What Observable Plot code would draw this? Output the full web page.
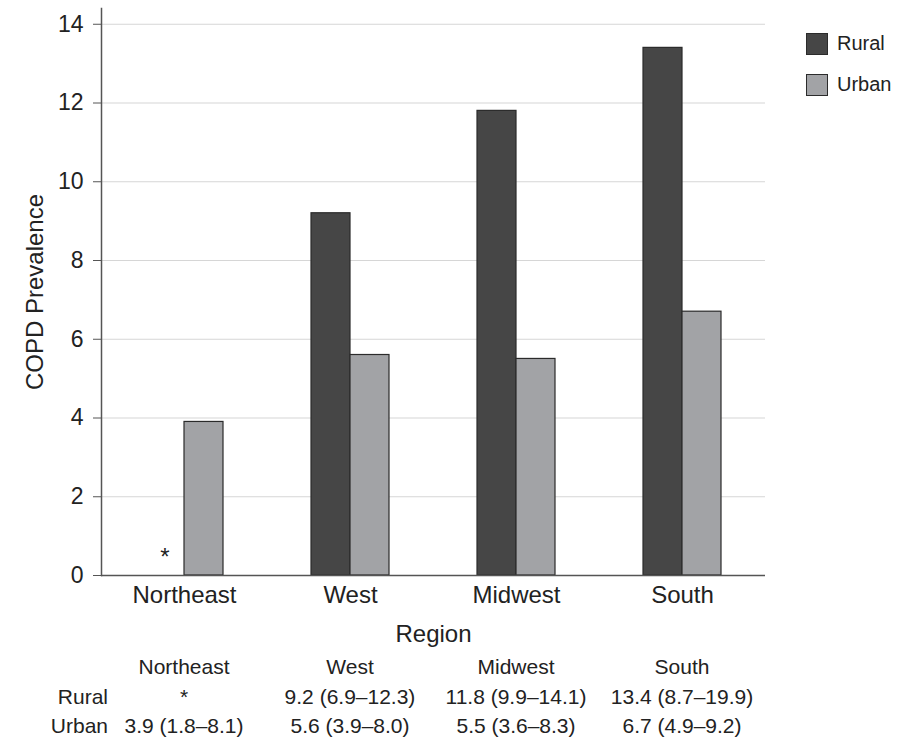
<!DOCTYPE html>
<html>
<head>
<meta charset="utf-8">
<script src="https://cdn.jsdelivr.net/npm/d3@7"></script>
<script src="https://cdn.jsdelivr.net/npm/@observablehq/plot@0.6"></script>
<style>
  body { margin: 0; background: #fff; font-family: "Liberation Sans", Arial, Helvetica, sans-serif; color: #222; }
  #wrap { position: relative; width: 910px; height: 738px; overflow: hidden; }
  #wrap svg { position: absolute; left: 0; top: 0; }
  .legend-item { position: absolute; display: flex; align-items: center; font-size: 20px; }
  .swatch { width: 20px; height: 20px; border: 1.5px solid #2b2b2b; margin-right: 9px; }
  .cell { position: absolute; font-size: 21px; line-height: 21px; white-space: nowrap; }
</style>
</head>
<body>
<div id="wrap"></div>
<script>
// COPD prevalence (%) by region and rural/urban setting, with 95% CIs
const regions = ["Northeast", "West", "Midwest", "South"];
const settings = ["Rural", "Urban"];
const ruralValues = [null, 9.2, 11.8, 13.4];        // Northeast rural estimate suppressed
const ruralLow    = [null, 6.9, 9.9, 8.7];
const ruralHigh   = [null, 12.3, 14.1, 19.9];
const urbanValues = [3.9, 5.6, 5.5, 6.7];
const urbanLow    = [1.8, 3.9, 3.6, 4.9];
const urbanHigh   = [8.1, 8.0, 8.3, 9.2];
const yTicks = [0, 2, 4, 6, 8, 10, 12, 14];
const settingColors = ["#464646", "#a2a3a6"];

const rows = regions.flatMap((region, i) => [
  {region, setting: "Rural", value: ruralValues[i]},
  {region, setting: "Urban", value: urbanValues[i]}
]);

const fmt = (v, lo, hi) => v == null ? "*" : `${v.toFixed(1)} (${lo.toFixed(1)}\u2013${hi.toFixed(1)})`;

const plot = Plot.plot({
  width: 910,
  height: 650,
  marginTop: 8,
  marginLeft: 100,
  marginRight: 145,
  marginBottom: 75,
  style: {fontFamily: '"Liberation Sans", Arial, Helvetica, sans-serif', fontSize: "23px", color: "#222", background: "#fff"},
  fx: {domain: regions, padding: 0, label: "Region"},
  x: {domain: settings, paddingInner: 0, paddingOuter: 1.08, axis: null},
  y: {domain: [0, 14.4], ticks: yTicks, label: "COPD Prevalence"},
  color: {domain: settings, range: settingColors},
  marks: [
    Plot.gridY(yTicks, {stroke: "#d6d6d6", strokeOpacity: 1, strokeWidth: 1.2}),
    Plot.barY(rows.filter(d => d.value != null), {
      fx: "region", x: "setting", y: "value", fill: "setting",
      stroke: "#2b2b2b", strokeWidth: 1.2
    }),
    Plot.text(rows.filter(d => d.value == null), {
      fx: "region", x: "setting", y: 0, text: () => "*",
      dy: -18, fontSize: 24, fill: "#222"
    }),
    Plot.ruleY([0], {stroke: "#555", strokeWidth: 1.5}),
    Plot.axisY(yTicks, {
      tickSize: 8, tickPadding: 10, fontSize: 23, stroke: "#555",
      label: null
    }),
    Plot.axisY({
      ticks: [], tickSize: 0, fontSize: 24,
      label: "COPD Prevalence", labelAnchor: "center", labelArrow: "none", labelOffset: 76
    }),
    Plot.axisFx({
      anchor: "bottom", fontSize: 24, tickSize: 0, tickPadding: 10,
      label: "Region", labelAnchor: "center", labelArrow: "none", labelOffset: 66
    }),
    Plot.frame({anchor: "left", facetAnchor: "left", stroke: "#555", strokeWidth: 1.5})
  ]
});

const wrap = document.getElementById("wrap");
wrap.appendChild(plot);

// Legend
settings.forEach((s, i) => {
  const item = document.createElement("div");
  item.className = "legend-item";
  item.style.left = "806px";
  item.style.top = (32 + i * 41) + "px";
  const sw = document.createElement("div");
  sw.className = "swatch";
  sw.style.background = settingColors[i];
  const label = document.createElement("span");
  label.textContent = s;
  item.append(sw, label);
  wrap.appendChild(item);
});

// Summary table positioned under each region's column
const fx = plot.scale("fx");
const colCenter = r => fx.apply(r) + fx.bandwidth / 2;
function addCell(text, center, top) {
  const c = document.createElement("div");
  c.className = "cell";
  c.textContent = text;
  c.style.top = top + "px";
  c.style.left = (center - 100) + "px";
  c.style.width = "200px";
  c.style.textAlign = "center";
  wrap.appendChild(c);
}
function addRowLabel(text, top) {
  const c = document.createElement("div");
  c.className = "cell";
  c.textContent = text;
  c.style.top = top + "px";
  c.style.left = "0px";
  c.style.width = "108px";
  c.style.textAlign = "right";
  wrap.appendChild(c);
}
const rowTops = [656, 686, 715];
regions.forEach((r, i) => {
  addCell(r, colCenter(r), rowTops[0]);
  addCell(fmt(ruralValues[i], ruralLow[i], ruralHigh[i]), colCenter(r), rowTops[1]);
  addCell(fmt(urbanValues[i], urbanLow[i], urbanHigh[i]), colCenter(r), rowTops[2]);
});
addRowLabel("Rural", rowTops[1]);
addRowLabel("Urban", rowTops[2]);
</script>
</body>
</html>
